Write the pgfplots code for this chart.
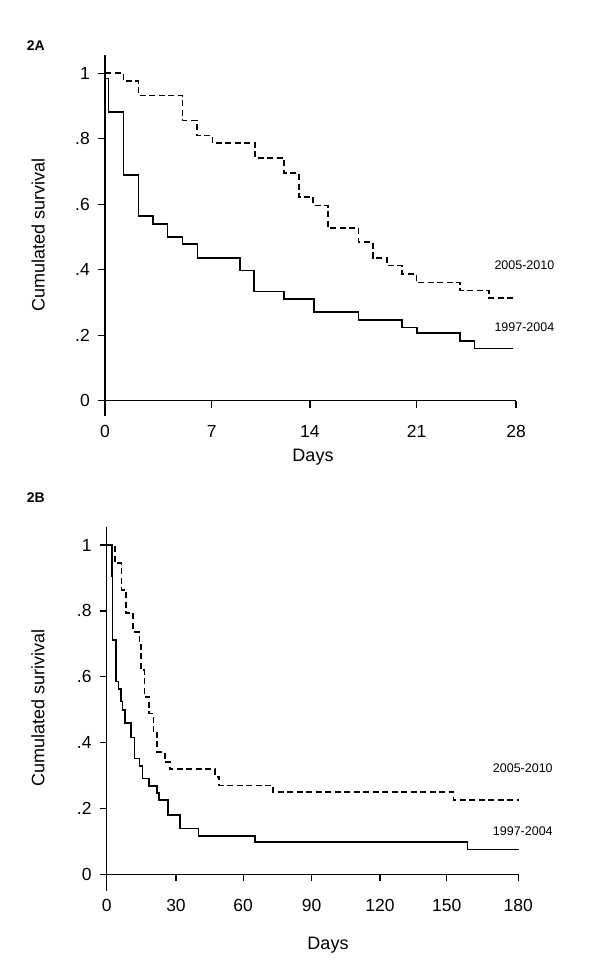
\documentclass[border=0pt]{standalone}
\usepackage{fontspec}
\setmainfont{Liberation Sans}
\usepackage{pgfplots}
\pgfplotsset{compat=1.18}
\begin{document}
\begin{tikzpicture}[x=1bp,y=1bp]
\useasboundingbox (0,0) rectangle (600,979);
\pgfplotsset{
  km/.style={
    scale only axis,
    axis x line=bottom, axis y line=left,
    axis line style={-, line width=1.3bp},
    tick align=outside, major tick length=7bp,
    tick style={line width=1.3bp, black},
    ymin=0, xmin=0,
    ytick={0,0.2,0.4,0.6,0.8,1},
    yticklabels={0,.2,.4,.6,.8,1},
    ticklabel style={font=\fontsize{17.5bp}{20bp}\selectfont, inner sep=0pt},
    xticklabel style={anchor=base, yshift=-30bp},
    yticklabel style={anchor=east, xshift=-8bp},
    clip=false,
  },
  solidkm/.style={const plot, black, line width=1.6bp, mark=none},
  dashkm/.style={const plot, black, line width=1.6bp, mark=none, dash pattern=on 6bp off 3.5bp},
}
% Panel A
\begin{axis}[km, at={(105bp,578.3bp)}, anchor=south west,
  width=411bp, height=345.7bp, xmax=28, ymax=1.0559,
  xtick={0,7.27,13.96,21.23,28}, xticklabels={0,7,14,21,28}]
\addplot[solidkm] coordinates {(0,0.984) (0.25,0.882) (1.26,0.690) (2.27,0.564) (3.27,0.540) (4.26,0.500) (5.29,0.478) (6.29,0.436) (9.2,0.398) (10.17,0.334) (12.2,0.311) (14.24,0.270) (17.26,0.247) (20.25,0.224) (21.27,0.207) (24.18,0.183) (25.16,0.160) (27.8,0.160)};
\addplot[dashkm] coordinates {(0,1) (1.25,0.977) (2.27,0.932) (5.27,0.856) (6.25,0.810) (7.31,0.787) (10.22,0.741) (12.21,0.695) (13.2,0.622) (14.19,0.596) (15.2,0.528) (17.26,0.484) (18.24,0.436) (19.23,0.413) (20.25,0.387) (21.23,0.361) (24.18,0.336) (26.16,0.314) (27.8,0.314)};
\draw[line width=1.3bp] (axis cs:0,0) -- ++(0bp,-15bp);
\end{axis}
% Panel B
\begin{axis}[km, at={(106.7bp,104.7bp)}, anchor=south west,
  width=411.6bp, height=347.6bp, xmax=180, ymax=1.0556,
  xtick={0,30.3,59.7,89.6,119.5,148.7,180}, xticklabels={0,30,60,90,120,150,180}]
\addplot[solidkm] coordinates {(0,1.0) (2.3,0.904) (2.6,0.712) (4.07,0.586) (5.1,0.563) (6.25,0.525) (6.98,0.499) (8.0,0.459) (10.6,0.416) (12.1,0.352) (14.3,0.328) (15.7,0.291) (18.6,0.268) (22.1,0.246) (23.0,0.225) (26.7,0.180) (32.1,0.139) (40.1,0.116) (64.9,0.098) (157.7,0.075) (180.4,0.075)};
\addplot[dashkm] coordinates {(0,1) (3.6,0.945) (6.5,0.863) (8.4,0.794) (11.6,0.736) (14.3,0.701) (14.9,0.62) (16.5,0.539) (18.6,0.488) (20.4,0.43) (22.1,0.372) (25.5,0.341) (27.7,0.319) (47.4,0.296) (49.2,0.270) (72.6,0.250) (151.6,0.225) (180.4,0.225)};
\draw[line width=1.3bp] (axis cs:0,0) -- ++(0bp,-17bp);
\end{axis}
% Text
\node[anchor=base west, inner sep=0pt, font=\fontsize{14bp}{16bp}\selectfont\bfseries] at (26.7,928.3) {2A};
\node[anchor=base west, inner sep=0pt, font=\fontsize{14bp}{16bp}\selectfont\bfseries] at (26.7,476.3) {2B};
\node[rotate=90, inner sep=0pt, font=\fontsize{18bp}{20bp}\selectfont] at (38.3,744) {Cumulated survival};
\node[rotate=90, inner sep=0pt, font=\fontsize{18bp}{20bp}\selectfont] at (38,271) {Cumulated surivival};
\node[anchor=base, inner sep=0pt, font=\fontsize{18bp}{20bp}\selectfont] at (313,517.3) {Days};
\node[anchor=base, inner sep=0pt, font=\fontsize{18bp}{20bp}\selectfont] at (328,29) {Days};
\node[anchor=west, inner sep=0pt, font=\fontsize{12.5bp}{14bp}\selectfont] at (494.3,713.3) {2005-2010};
\node[anchor=west, inner sep=0pt, font=\fontsize{12.5bp}{14bp}\selectfont] at (494.3,651.7) {1997-2004};
\node[anchor=west, inner sep=0pt, font=\fontsize{12.5bp}{14bp}\selectfont] at (492.7,210.7) {2005-2010};
\node[anchor=west, inner sep=0pt, font=\fontsize{12.5bp}{14bp}\selectfont] at (492.7,148) {1997-2004};
\end{tikzpicture}
\end{document}
